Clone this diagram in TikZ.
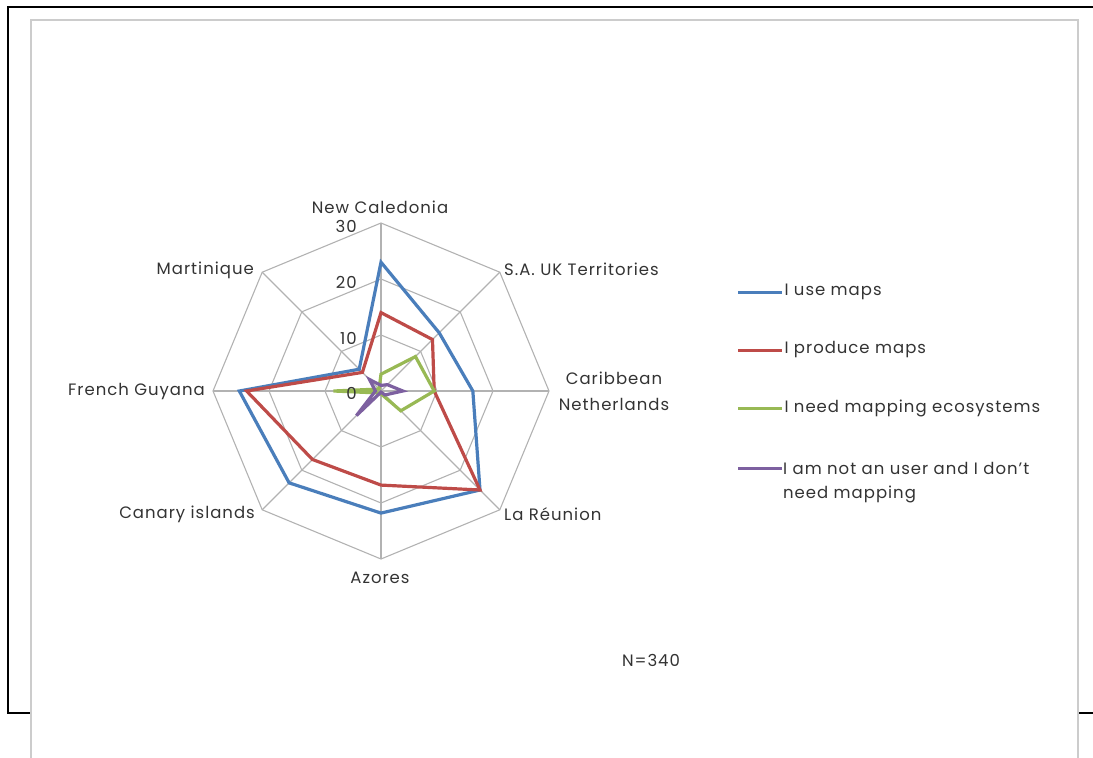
\documentclass[tikz,border=0pt]{standalone}
\usepackage{fontspec}
\setmainfont{Poppins}[LetterSpace=6]
\definecolor{useblue}{HTML}{4A7EBB}
\definecolor{prodred}{HTML}{BE4B48}
\definecolor{needgreen}{HTML}{98B954}
\definecolor{notpurple}{HTML}{7D60A0}
\definecolor{labelgray}{HTML}{333333}
\tikzset{
  gridline/.style={draw=gray!60, line width=1.1pt},
  serie/.style={line width=3.2pt, line join=miter},
  axislabel/.style={text=labelgray, inner sep=1pt},
  ticklabel/.style={text=labelgray, anchor=east, inner sep=1pt},
  legline/.style={line width=3pt}
}

\begin{document}
\begin{tikzpicture}[x=1pt, y=-1pt, font=\fontsize{16.5}{24}\selectfont]
  \useasboundingbox (0,0) rectangle (1093,758);
  % frames
  \draw[black, line width=2pt] (31,713) -- (8,713) -- (8,7) -- (1093,7);
  \draw[black, line width=2pt] (1078,713) -- (1093,713);
  \draw[gray!40, line width=2.5pt] (31,758) -- (31,20) -- (1078,20) -- (1078,758);

  % radar
  \begin{scope}[shift={(381,391)}, x=5.6pt, y=5.6pt]
    \foreach \r in {10,20,30}
      \draw[gridline] (0:\r) \foreach \a in {45,90,...,315} { -- (\a:\r) } -- cycle;
    \foreach \a in {0,45,...,315}
      \draw[gridline] (0,0) -- (\a:30);

    \draw[serie, useblue] (90:23) -- (45:14.7) -- (0:16.4) -- (-45:25) -- (-90:21.8)
      -- (-135:23.2) -- (180:25.3) -- (135:5.5) -- cycle;
    \draw[serie, prodred] (90:14) -- (45:13) -- (0:9.5) -- (-45:25) -- (-90:16.8)
      -- (-135:17.3) -- (180:24) -- (135:4.7) -- cycle;
    \draw[serie, needgreen] (90:3) -- (45:8.7) -- (0:9.5) -- (-45:5) -- (-90:0.5)
      -- (-135:0.5) -- (180:8.5) -- (135:0.5) -- cycle;
    \draw[serie, notpurple] (90:1) -- (45:1.6) -- (0:3.9) -- (-45:1) -- (-90:0.2)
      -- (-135:6.2) -- (180:1) -- (135:2.9) -- cycle;
  \end{scope}

  % tick labels
  \node[ticklabel] (t30) at (358,226) {30};
  \node[ticklabel] (t20) at (358,282) {20};
  \node[ticklabel] (t10) at (358,338) {10};
  \node[ticklabel] (t0) at (358,393) {0};

  % axis labels
  \node[axislabel] (newcal) at (380,207) {New Caledonia};
  \node[axislabel, anchor=west] (saukt) at (503,269) {S.A. UK Territories};
  \node[axislabel, align=center] (caribnl) at (614,391) {Caribbean\\[2pt]Netherlands};
  \node[axislabel, anchor=west] (reunion) at (503,514) {La Réunion};
  \node[axislabel] (azores) at (380,578) {Azores};
  \node[axislabel, anchor=east] (canary) at (256,514) {Canary islands};
  \node[axislabel, anchor=east] (frguyana) at (206,392) {French Guyana};
  \node[axislabel, anchor=east] (martinique) at (255,270) {Martinique};

  % legend
  \draw[legline, useblue] (738,292) -- (782,292) node[axislabel, anchor=west] (leguse) {I use maps};
  \draw[legline, prodred] (738,350) -- (782,350) node[axislabel, anchor=west] (legprod) {I produce maps};
  \draw[legline, needgreen] (738,408) -- (782,408) node[axislabel, anchor=west] (legneed) {I need mapping ecosystems};
  \draw[legline, notpurple] (738,468) -- (782,468) coordinate (legnotend);
  \node[axislabel, anchor=north west, align=left] (legnot) at (782,461) {I am not an user and I don't\\need mapping};

  \node[axislabel] (ncount) at (651,660) {N=340};
\end{tikzpicture}
\end{document}
